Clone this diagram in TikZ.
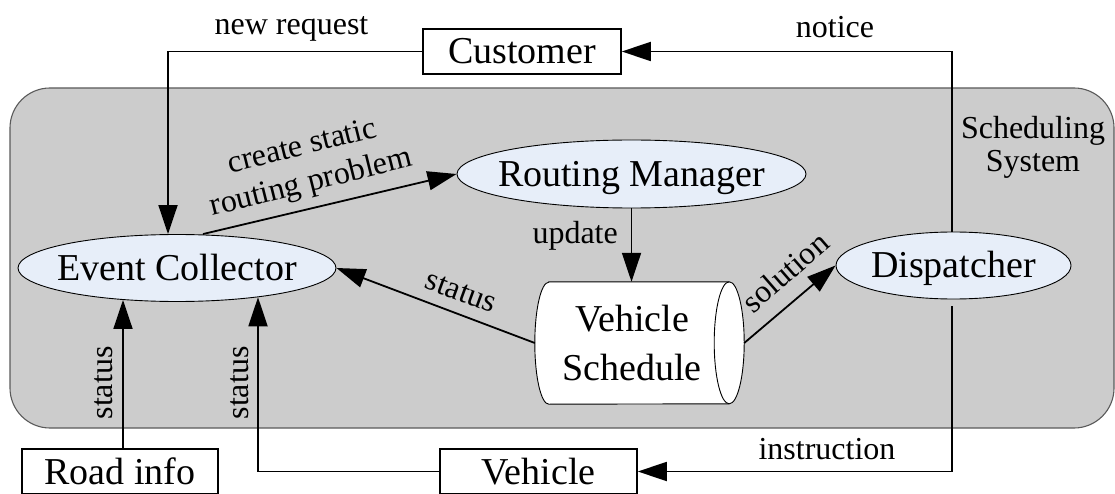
\documentclass[tikz,border=0pt]{standalone}
\usepackage{fontspec}
\setmainfont{Liberation Serif}
\usetikzlibrary{shapes.geometric,arrows.meta,backgrounds,calc}
\definecolor{panelgray}{RGB}{204,204,204}
\definecolor{paneledge}{RGB}{90,90,90}
\definecolor{ovalfill}{RGB}{231,238,249}
\newcommand{\zw}[1]{\makebox[0pt]{#1}}
\begin{document}
\begin{tikzpicture}[x=1pt,y=1pt,
  nodefont/.style={font=\fontsize{38}{46}\selectfont},
  oval/.style={ellipse, draw=black, line width=0.9pt, fill=ovalfill,
    inner sep=0pt, nodefont, text height=25pt, text depth=0pt},
  entity/.style={rectangle, draw=black, line width=1.6pt, fill=white,
    inner sep=0pt, nodefont, text height=25pt, text depth=0pt},
  arr/.style={line width=1.8pt, -{Triangle[length=29pt,width=19pt]}},
  lbl/.style={font=\fontsize{32}{36}\selectfont, inner sep=0pt},
]
\useasboundingbox (0,0) rectangle (1115,493);

% scheduling system panel
\begin{scope}[on background layer]
  \draw[fill=panelgray, draw=paneledge, line width=1.1pt, rounded corners=40pt]
    (10,65) rectangle (1114,405);
\end{scope}

% external entities
\node[entity, minimum width=198pt, minimum height=45pt] (cust) at (522,441.5) {Customer};
\node[entity, minimum width=196pt, minimum height=45pt] (road) at (120,21.5) {Road info};
\node[entity, minimum width=197pt, minimum height=45pt] (veh) at (538.5,21.5) {Vehicle};

% components of the scheduling system
\node[oval, minimum width=318pt, minimum height=67pt] (ec) at (177,225) {\zw{Event Collector}};
\node[oval, minimum width=349pt, minimum height=68pt] (rm) at (631.5,319) {\zw{Routing Manager}};
\node[oval, minimum width=235pt, minimum height=67pt] (disp) at (953.5,227.5) {\zw{Dispatcher}};
\node[nodefont, align=center, inner sep=0pt, minimum width=194pt, minimum height=122pt,
  font=\fontsize{38}{49}\selectfont] (vs) at (632,150) {Vehicle\\Schedule};

% data store drawn as a lying cylinder
\begin{scope}[on background layer]
  \draw[fill=white, line width=0.9pt]
    ([xshift=14pt]vs.north west) -- (vs.north east)
    arc[start angle=90, end angle=-90, x radius=15pt, y radius=61pt]
    -- ([xshift=14pt]vs.south west)
    arc[start angle=270, end angle=90, x radius=14pt, y radius=61pt] -- cycle;
  \draw[line width=0.9pt] (vs.north east)
    arc[start angle=90, end angle=270, x radius=15pt, y radius=61pt];
\end{scope}

\node[lbl, align=center, font=\fontsize{32}{33}\selectfont] (sys) at (1033,346) {Scheduling\\System};

% flows
\draw[arr] (cust.west) -| ([xshift=-9pt]ec.north);
\node[lbl, anchor=base] (lnew) at (291.5,458) {new request};

\draw[arr] ([xshift=-1.5pt]disp.north) |- (cust.east);
\node[lbl, anchor=base] (lnotice) at (835,455) {notice};

\draw[arr] ([xshift=26pt]ec.north) -- (rm.west);
\node[lbl, align=center, rotate=14, font=\fontsize{32}{37}\selectfont] (lcreate) at (307,327)
  {create static\\routing problem};

\draw[arr] (rm.south) -- (rm.south |- vs.north);
\node[lbl, anchor=base east] (lupdate) at (618,249) {update};

\draw[arr] (vs.west) -- (ec.east);
\node[lbl, rotate=-20] (lstat) at (461,201) {status};

\draw[arr] ([xshift=15pt]vs.east) -- (disp.west);
\node[lbl, rotate=41] (lsol) at (785,221) {solution};

\draw[arr] ([xshift=3pt]road.north) -- ([xshift=-54pt,yshift=2pt]ec.south);
\node[lbl, rotate=90, anchor=base] (lroad) at (112,110) {status};

\draw[arr] (veh.west) -| ([xshift=81pt,yshift=4.7pt]ec.south);
\node[lbl, rotate=90, anchor=base] (lveh) at (248,110) {status};

\draw[arr, shorten <=7pt] ([xshift=-1.5pt]disp.south) |- (veh.east);
\node[lbl, anchor=base] (linstr) at (827,34) {instruction};
\end{tikzpicture}
\end{document}
